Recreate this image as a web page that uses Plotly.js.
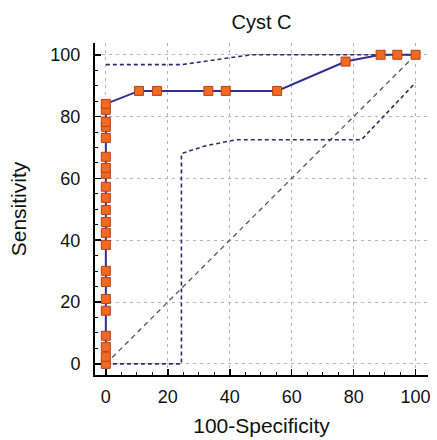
<!DOCTYPE html>
<html>
<head>
<meta charset="utf-8">
<script src="https://cdn.plot.ly/plotly-3.0.1.min.js"></script>
<style>html,body{margin:0;padding:0;background:#fff;}#chart{width:437px;height:440px;}</style>
</head>
<body>
<div id="chart"></div>
<script>
// ROC curve points (100-Specificity, Sensitivity)
var rocX = [0,0,0,0,0,0,0,0,0,0,0,0,0,0,0,0,0,0,0,0,0,0,10.7,16.5,33.1,38.7,55.3,77.4,88.7,94.1,100];
var rocY = [0,2.3,5.5,9.1,17.2,21.0,26.5,30.1,38.5,42.4,45.9,49.8,53.7,57.3,61.5,63.4,67.0,73.1,76.7,78.3,82.2,84.1,88.3,88.3,88.3,88.3,88.3,97.8,100,100,100];
// upper confidence bound
var upX = [0,24.5,30,38,47,100];
var upY = [96.8,96.8,97.6,98.8,100,100];
// lower confidence bound
var loX = [0,24.4,24.4,32,42,82.5,100];
var loY = [0,0,68,70.5,72.5,72.5,91];
// reference diagonal
var diagX = [0,100];
var diagY = [0,100];
var tickVals = [0,20,40,60,80,100];

var navy = '#2E3192';
var data = [
  {x: diagX, y: diagY, mode: 'lines', line: {color: '#555555', width: 1.3, dash: '5px,4px'}, hoverinfo: 'skip'},
  {x: upX, y: upY, mode: 'lines', line: {color: '#2d2d6e', width: 1.6, dash: '4px,3px'}, hoverinfo: 'skip'},
  {x: loX, y: loY, mode: 'lines', line: {color: '#2d2d6e', width: 1.6, dash: '4px,3px'}, hoverinfo: 'skip'},
  {x: rocX, y: rocY, mode: 'lines+markers', line: {color: navy, width: 2},
   marker: {symbol: 'square', size: 9, color: '#F26A21', line: {color: '#B8401A', width: 1}}}
];

var fontFam = '"Liberation Sans", Arial, sans-serif';
var axisCommon = {
  showline: true, linecolor: '#000', linewidth: 2,
  ticks: 'inside', ticklen: 6, tickwidth: 1.5, tickcolor: '#000',
  tickvals: tickVals,
  showgrid: true, gridcolor: '#B4B4B4', gridwidth: 1, griddash: '3px,4px',
  zeroline: false,
  minor: {dtick: 5, ticks: 'inside', ticklen: 3, tickwidth: 1, tickcolor: '#000', showgrid: false},
  tickfont: {family: fontFam, size: 18, color: '#111'},
  range: [-3.5, 104], fixedrange: true
};

var layout = {
  width: 437, height: 440,
  margin: {l: 95, r: 9, t: 43, b: 65},
  paper_bgcolor: '#fff', plot_bgcolor: '#fff',
  showlegend: false,
  title: {text: 'Cyst C', font: {family: fontFam, size: 20, color: '#111'}, x: 0.5, xref: 'paper', y: 0.95, yanchor: 'middle'},
  xaxis: Object.assign({}, axisCommon, {
    title: {text: '100-Specificity', font: {family: fontFam, size: 21, color: '#111'}, standoff: 13},
    ticklabelstandoff: 4
  }),
  yaxis: Object.assign({}, axisCommon, {
    range: [-3.6, 103.8],
    title: {text: 'Sensitivity', font: {family: fontFam, size: 21, color: '#111'}, standoff: 18},
    ticklabelstandoff: 9
  })
};

Plotly.newPlot('chart', data, layout, {displayModeBar: false, staticPlot: true});
</script>
</body>
</html>
